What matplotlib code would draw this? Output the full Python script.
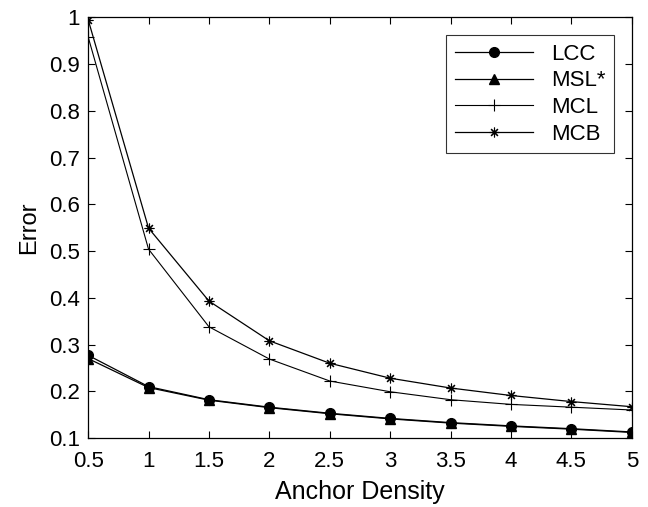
import matplotlib
matplotlib.use('Agg')
import matplotlib.pyplot as plt

plt.rcParams['font.family'] = ['Liberation Sans', 'DejaVu Sans']

density = [0.5, 1, 1.5, 2, 2.5, 3, 3.5, 4, 4.5, 5]
lcc = [0.277, 0.210, 0.182, 0.166, 0.153, 0.142, 0.133, 0.126, 0.120, 0.113]
msl = [0.270, 0.208, 0.181, 0.165, 0.152, 0.141, 0.132, 0.125, 0.119, 0.112]
mcl = [0.958, 0.504, 0.338, 0.269, 0.222, 0.199, 0.182, 0.172, 0.166, 0.160]
mcb = [0.995, 0.549, 0.393, 0.308, 0.260, 0.228, 0.207, 0.191, 0.178, 0.167]

fig = plt.figure(figsize=(6.48, 5.07), dpi=100)
ax = fig.add_axes([0.136, 0.136, 0.839, 0.830])

ax.plot(density, lcc, 'k-o', lw=0.9, ms=7, label='LCC')
ax.plot(density, msl, 'k-^', lw=0.9, ms=7, label='MSL*')
ax.plot(density, mcl, 'k-+', lw=0.8, ms=8, mew=0.8, label='MCL')
ax.plot(density, mcb, 'k-', marker=(8, 2, 0), lw=0.9, ms=7, mew=0.8, label='MCB')

ax.set_xlim(0.5, 5)
ax.set_ylim(0.1, 1)
ax.set_xticks(density)
ax.set_xticklabels(['0.5', '1', '1.5', '2', '2.5', '3', '3.5', '4', '4.5', '5'])
ax.set_yticks([0.1, 0.2, 0.3, 0.4, 0.5, 0.6, 0.7, 0.8, 0.9, 1])
ax.set_yticklabels(['0.1', '0.2', '0.3', '0.4', '0.5', '0.6', '0.7', '0.8', '0.9', '1'])
ax.tick_params(direction='in', top=True, right=True, labelsize=16, length=5)
ax.tick_params(axis='x', pad=9)
ax.tick_params(axis='y', pad=6)
for s in ax.spines.values():
    s.set_linewidth(0.9)

ax.set_xlabel('Anchor Density', fontsize=18, labelpad=6)
ax.set_ylabel('Error', fontsize=17, labelpad=6)

leg = ax.legend(loc='upper right', fontsize=16, fancybox=False, edgecolor='k',
                handlelength=3.5, borderaxespad=0.8, labelspacing=0.25)
leg.get_frame().set_linewidth(0.8)

fig.savefig('out.png', dpi=100)
